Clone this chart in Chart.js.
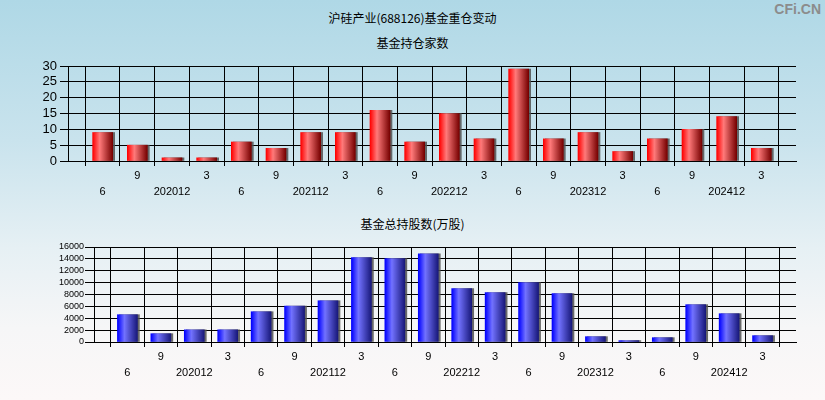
<!DOCTYPE html>
<html><head><meta charset="utf-8">
<script src="https://cdn.jsdelivr.net/npm/chart.js@4/dist/chart.umd.min.js"></script>
<style>
html,body{margin:0;padding:0;}
body{width:825px;height:400px;overflow:hidden;position:relative;background:linear-gradient(to bottom,#afd8e6 0%,#c9e3ed 35%,#e6f0f4 62%,#f6f6f7 82%,#fcf8f8 100%);font-family:"Noto Sans CJK SC",sans-serif;}
.t{position:absolute;left:0;width:825px;text-align:center;font-size:12px;color:#000;line-height:16px;}
#c1{position:absolute;left:0;top:0;}
#c2{position:absolute;left:0;top:205px;}
#logo{position:absolute;right:4px;top:1px;font:bold 14px "Liberation Sans",Arial,sans-serif;color:#8c8c8c;}
</style></head>
<body>
<div class="t" style="top:10px">沪硅产业(688126)基金重仓变动</div>
<div class="t" style="top:35px">基金持仓家数</div>
<div class="t" style="top:216px">基金总持股数(万股)</div>
<div id="logo">CFi.CN</div>
<canvas id="c1" width="825" height="205" style="width:825px;height:205px"></canvas>
<canvas id="c2" width="825" height="195" style="width:825px;height:195px"></canvas>
<script>
const periods = ['202006','202009','202012','202103','202106','202109','202112','202203','202206','202209','202212','202303','202306','202309','202312','202403','202406','202409','202412','202503'];
const fundCount = [9,5,1,1,6,4,9,9,16,6,15,7,29,7,9,3,7,10,14,4];
const fundShares = [4600,1400,2050,2050,5100,6050,6950,14200,14050,14870,8980,8310,9990,8140,900,230,730,6290,4770,1070];
const countTicks = [0,5,10,15,20,25,30];
const shareTicks = [0,2000,4000,6000,8000,10000,12000,14000,16000];

function shortLabel(p){ const m = parseInt(p.slice(4),10); return m === 12 ? p : String(m); }
const axisLabels = [['','']].concat(periods.map((p,i)=> i%2===0 ? ['', shortLabel(p)] : [shortLabel(p), ''])).concat([['','']]);
const countData = [null].concat(fundCount).concat([null]);
const shareData = [null].concat(fundShares).concat([null]);

function barFill(c0,c1,c2){
  return function(ctx){
    const chart = ctx.chart;
    if(!chart.chartArea || ctx.dataIndex === undefined || !chart.scales.x) return c0;
    const x = chart.scales.x.getPixelForValue(ctx.dataIndex);
    const w = 20;
    const g = chart.ctx.createLinearGradient(x-w/2,0,x+w/2,0);
    g.addColorStop(0,c0); g.addColorStop(0.35,c1); g.addColorStop(1,c2);
    return g;
  };
}
const shadowPlugin = {
  id:'barShadow',
  beforeDatasetDraw(chart){ const c=chart.ctx; c.save(); c.shadowColor='rgba(80,80,80,0.85)'; c.shadowOffsetX=2; c.shadowOffsetY=0; c.shadowBlur=0; },
  afterDatasetDraw(chart){ chart.ctx.restore(); }
};

function makeChart(id, data, fill, ticksArr, yMax, opts){
  return new Chart(document.getElementById(id), {
    type:'bar',
    data:{ labels: axisLabels, datasets:[{ data: data, backgroundColor: fill, borderWidth:0, barThickness:20 }]},
    plugins:[shadowPlugin],
    options:{
      responsive:false, animation:false,
      layout:{ padding:{ top:opts.top, right:29, left:0, bottom:0 } },
      plugins:{ legend:{display:false}, tooltip:{enabled:false}, title:{display:false} },
      scales:{
        x:{ type:'category', offset:false,
          grid:{ color:'#000', lineWidth:1, tickLength:5, tickColor:'#000' },
          border:{ color:'#000' },
          ticks:{ autoSkip:false, maxRotation:0, minRotation:0, padding:2, color:'#000',
                  font:{ family:'"Liberation Sans", Arial, sans-serif', size:11, lineHeight:16/11 } },
          afterFit(s){ s.height = opts.xh; } },
        y:{ min:0, max:yMax,
          afterBuildTicks(s){ s.ticks = ticksArr.map(v=>({value:v})); },
          grid:{ color:'#000', lineWidth:1, tickLength:opts.tl, tickColor:'#000' },
          border:{ color:'#000' },
          ticks:{ autoSkip:false, padding:opts.pad, color:'#000', callback:(v)=>String(v),
                  font:{ family:'"Liberation Sans", Arial, sans-serif', size:opts.fs } },
          afterFit(s){ s.width = opts.yw; } }
      }
    }
  });
}
makeChart('c1', countData, barFill('#ff0000','#ff7a7a','#760000'), countTicks, 30, {top:66, xh:44, yw:68, tl:8, pad:3, fs:13});
makeChart('c2', shareData, barFill('#0000ff','#7272ff','#18187a'), shareTicks, 16000, {top:42, xh:58, yw:94, tl:9, pad:1, fs:9});
</script>
</body></html>
